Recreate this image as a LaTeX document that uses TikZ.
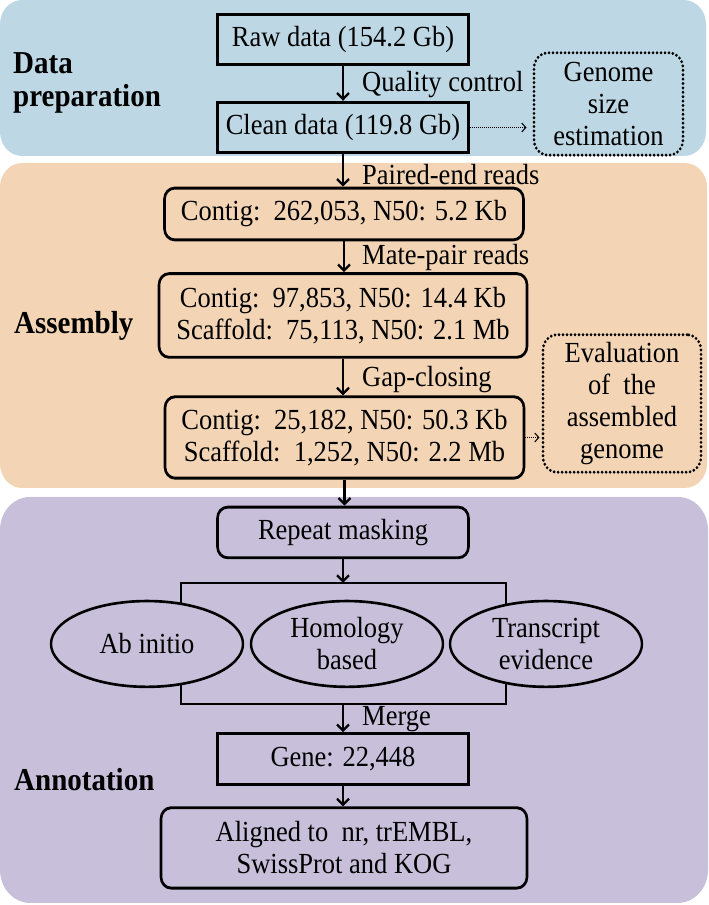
\documentclass[tikz,border=0pt]{standalone}
\usepackage{fontspec}
\setmainfont{Liberation Serif}
\usetikzlibrary{arrows.meta}
\usetikzlibrary{positioning}
\usetikzlibrary{shapes.geometric}

\definecolor{prepblue}{RGB}{189,216,228}
\definecolor{asmorange}{RGB}{243,213,182}
\definecolor{annpurple}{RGB}{200,192,218}

\begin{document}
\begin{tikzpicture}[x=1pt,y=-0.909pt,
  every node/.style={font=\fontsize{26.5}{29}\selectfont,inner sep=0pt},
  sqbox/.style={draw,line width=2.6pt,minimum width=251pt,minimum height=46pt},
  rbox/.style={draw,line width=2.6pt,rounded corners=10pt,align=center},
  dotbox/.style={draw,line width=3pt,dash pattern=on 0pt off 4pt,line cap=round,rounded corners=14pt,align=center},
  oval/.style={draw,ellipse,line width=2.4pt,fill=annpurple,minimum width=192pt,minimum height=78pt,align=center},
  arr/.style={line width=2.2pt,-{Straight Barb[length=5.5pt,width=12pt,line width=2.2pt]}},
  dotarr/.style={line width=1pt,dash pattern=on 1pt off 1pt,-{Straight Barb[length=4pt,width=8pt,line width=1pt]}},
  lbl/.style={anchor=west},
  phase/.style={font=\fontsize{29}{30}\selectfont\bfseries,anchor=west,align=left}]
  \useasboundingbox (0,0) rectangle (709,995.6);
  \begin{scope}[transform canvas={yscale=1.1}]
  % panels
  \fill[prepblue,rounded corners=22pt] (0,0) rectangle (706,156);
  \fill[asmorange,rounded corners=22pt] (0,163) rectangle (707,488);
  \fill[annpurple,rounded corners=30pt] (0,497) rectangle (708,903);
  \node[phase] (prep) at (13,83) {Data\\preparation};
  \node[phase] (asm) at (14,326) {Assembly};
  \node[phase] (ann) at (14,780) {Annotation};
  % data preparation
  \node[sqbox] (raw) at (343,39.5) {Raw data (154.2 Gb)};
  \node[sqbox] (clean) at (343,127.5) {Clean data (119.8 Gb)};
  \node[dotbox,minimum width=149pt,minimum height=93pt] (gsize) at (608.5,104) {Genome\\size\\estimation};
  \draw[arr] (raw.south) -- (raw.south |- clean.north);
  \node[lbl] (qc) at (362,85) {Quality control};
  \draw[dotarr,shorten >=6pt] (clean.east) -- (clean.east -| gsize.west);
  % assembly
  \node[rbox,minimum width=359pt,minimum height=47pt] (ctg1) at (344,214) {Contig:~~262,053, N50: 5.2 Kb};
  \node[rbox,minimum width=368pt,minimum height=76pt] (ctg2) at (343,315.5) {Contig:~~97,853, N50: 14.4 Kb\\Scaffold:~~75,113, N50: 2.1 Mb};
  \node[rbox,minimum width=359pt,minimum height=74pt] (ctg3) at (344.5,437.5) {Contig:~~25,182, N50: 50.3 Kb\\Scaffold:~~1,252, N50: 2.2 Mb};
  \node[dotbox,minimum width=158pt,minimum height=125pt] (evalg) at (622,403.5) {Evaluation\\of~~the\\assembled\\genome};
  \draw[arr] (clean.south) -- (clean.south |- ctg1.north);
  \node[lbl] (pe) at (362,175) {Paired-end reads};
  \draw[arr] (ctg1.south) -- (ctg1.south |- ctg2.north);
  \node[lbl] (mp) at (362,258) {Mate-pair reads};
  \draw[arr] (ctg2.south) -- (ctg2.south |- ctg3.north);
  \node[lbl] (gc) at (362,380) {Gap-closing};
  \draw[dotarr,shorten >=2pt] (ctg3.east) -- (ctg3.east -| evalg.west);
  % annotation
  \node[rbox,minimum width=251pt,minimum height=46pt] (rmask) at (343,532.5) {Repeat masking};
  \draw[arr] (ctg3.south) -- (ctg3.south |- rmask.north);
  \coordinate (brnw) at (181,583);
  \coordinate (brse) at (506,704);
  \draw[line width=2.4pt] (brnw) rectangle (brse);
  \draw[arr] (rmask.south) -- (rmask.south |- brnw);
  \node[oval] (abinit) at (147,644) {Ab initio};
  \node[oval] (homol) at (347,644) {Homology\\based};
  \node[oval] (trans) at (546,644) {Transcript\\evidence};
  \node[sqbox] (gene) at (343,759) {Gene: 22,448};
  \draw[arr] (rmask.south |- brse) -- (rmask.south |- gene.north);
  \node[lbl] (mrg) at (362,719) {Merge};
  \node[rbox,minimum width=366pt,minimum height=73pt] (align) at (344,848) {Aligned to~~nr, trEMBL,\\SwissProt and KOG};
  \draw[arr] (gene.south) -- (gene.south |- align.north);
  \end{scope}
\end{tikzpicture}
\end{document}
